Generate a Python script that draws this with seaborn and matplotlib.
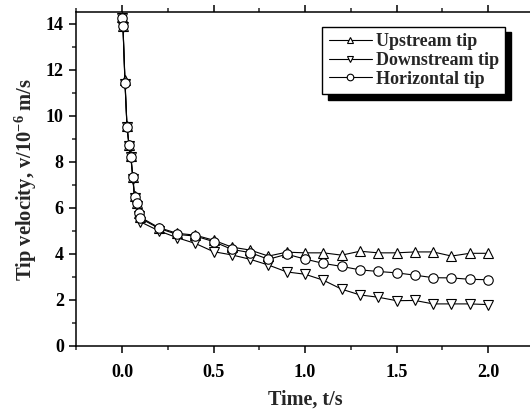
import matplotlib
matplotlib.use("Agg")
import matplotlib.pyplot as plt
from matplotlib.ticker import MultipleLocator
import seaborn as sns
import pandas as pd

# Time samples (s): dense at the start, then every 0.1 s
time = [0.0, 0.005, 0.016, 0.027, 0.038, 0.048, 0.059, 0.068, 0.08, 0.09, 0.1,
        0.2, 0.3, 0.4, 0.5, 0.6, 0.7, 0.8, 0.9, 1.0, 1.1, 1.2, 1.3, 1.4,
        1.5, 1.6, 1.7, 1.8, 1.9, 2.0]

# Tip velocity (1e-6 m/s)
upstream = [14.3, 13.9, 11.55, 9.55, 8.75, 8.25, 7.35, 6.5, 6.2, 5.8, 5.6,
            5.15, 4.9, 4.82, 4.6, 4.3, 4.17, 3.91, 4.08, 4.05, 4.05, 3.95,
            4.12, 4.05, 4.05, 4.09, 4.09, 3.91, 4.03, 4.03]
downstream = [14.25, 13.85, 11.4, 9.5, 8.7, 8.2, 7.25, 6.45, 6.1, 5.65, 5.4,
              5.01, 4.71, 4.46, 4.1, 3.96, 3.77, 3.52, 3.22, 3.12, 2.86, 2.47,
              2.22, 2.12, 1.97, 1.98, 1.83, 1.83, 1.83, 1.8]
horizontal = [14.25, 13.9, 11.45, 9.53, 8.74, 8.23, 7.33, 6.49, 6.2, 5.77, 5.55,
              5.12, 4.85, 4.78, 4.54, 4.2, 4.06, 3.77, 3.99, 3.78, 3.59, 3.46,
              3.31, 3.24, 3.18, 3.08, 2.97, 2.96, 2.9, 2.88]

series_names = ["Upstream tip", "Downstream tip", "Horizontal tip"]
series_markers = {"Upstream tip": "^", "Downstream tip": "v", "Horizontal tip": "o"}

df = pd.concat([
    pd.DataFrame({"time": time, "velocity": vals, "tip": name})
    for name, vals in zip(series_names, [upstream, downstream, horizontal])
], ignore_index=True)

sns.set_style("ticks")
plt.rcParams["font.family"] = ["Liberation Serif", "DejaVu Serif"]
plt.rcParams["font.weight"] = "bold"
plt.rcParams["mathtext.fontset"] = "custom"
plt.rcParams["mathtext.rm"] = "Liberation Serif:bold"
plt.rcParams["mathtext.it"] = "Liberation Serif:bold"
plt.rcParams["mathtext.bf"] = "Liberation Serif:bold"

fig = plt.figure(figsize=(5.30, 4.12), dpi=100)
ax = fig.add_axes([0.1440, 0.1602, 0.8632, 0.8095])

sns.lineplot(data=df, x="time", y="velocity", style="tip",
             markers=series_markers, dashes=False, color="black",
             estimator=None, sort=False, legend=False, ax=ax,
             linewidth=0.8, markersize=6.8, markerfacecolor="white",
             markeredgecolor="black", markeredgewidth=0.8)

ax.set_xlim(-0.25, 2.25)
ax.set_ylim(0, 14.5)
ax.xaxis.set_minor_locator(MultipleLocator(0.25))
ax.yaxis.set_major_locator(MultipleLocator(2))
ax.yaxis.set_minor_locator(MultipleLocator(1))
ax.set_xticks([0.0, 0.5, 1.0, 1.5, 2.0])
ax.set_xticklabels(["0.0", "0.5", "1.0", "1.5", "2.0"])

for side in ["left", "bottom", "top"]:
    ax.spines[side].set_linewidth(1.1)
    ax.spines[side].set_color("black")
ax.spines["right"].set_visible(False)

ax.tick_params(which="major", direction="out", length=5, width=1.1,
               labelsize=13, colors="black", pad=4)
ax.tick_params(axis="x", which="major", pad=8)
ax.tick_params(which="minor", direction="out", length=3, width=1.1)
ax.tick_params(axis="x", which="both", top=True, labeltop=False)
for lab in ax.get_xticklabels() + ax.get_yticklabels():
    lab.set_fontweight("bold")

ax.set_xlabel("Time, t/s", fontsize=14.5, fontweight="bold", labelpad=6)
ax.set_ylabel(r"Tip velocity, v/10$^{-6}$ m/s", fontsize=14.8,
              fontweight="bold", labelpad=5)

leg = ax.legend(handles=ax.lines[:3], labels=series_names,
                loc="upper right", bbox_to_anchor=(0.937, 0.957),
                borderaxespad=0, frameon=True, fancybox=False,
                shadow={"ox": 4, "oy": -4, "color": "black", "alpha": 1},
                prop={"family": "Liberation Serif", "weight": "bold", "size": 13},
                handlelength=2.4, handletextpad=0.2, labelspacing=0.1,
                borderpad=0.35, markerscale=0.7, numpoints=1)
leg.get_frame().set_edgecolor("black")
leg.get_frame().set_linewidth(1.0)
leg.get_frame().set_alpha(1)

fig.savefig("out.png", dpi=100)
